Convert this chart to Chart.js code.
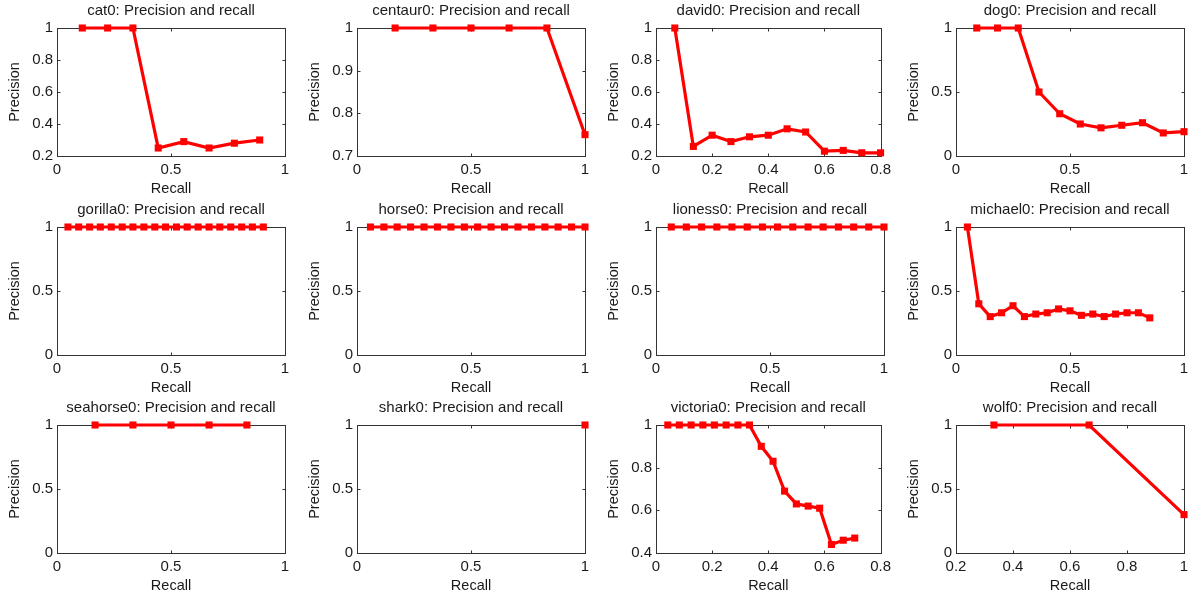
<!DOCTYPE html>
<html>
<head>
<meta charset="utf-8">
<script src="https://cdn.jsdelivr.net/npm/chart.js@4.4.1/dist/chart.umd.min.js"></script>
<style>
  html, body { margin: 0; padding: 0; background: #fff; overflow: hidden; }
  #grid { position: relative; width: 1188px; height: 594px; }
  .cell { position: absolute; }
</style>
</head>
<body>
<div id="grid"></div>
<script>
// --- Daten ---

const names = ["cat0", "centaur0", "david0", "dog0",
               "gorilla0", "horse0", "lioness0", "michael0",
               "seahorse0", "shark0", "victoria0", "wolf0"];

const catRecall = [0.111, 0.222, 0.333, 0.444, 0.556, 0.667, 0.778, 0.889];
const catPrecision = [1, 1, 1, 0.25, 0.29, 0.25, 0.28, 0.30];

const centaurRecall = [0.167, 0.333, 0.5, 0.667, 0.833, 1];
const centaurPrecision = [1, 1, 1, 1, 1, 0.75];

const davidRecall = [0.067, 0.133, 0.2, 0.267, 0.333, 0.4, 0.467, 0.533, 0.6, 0.667, 0.733, 0.8];
const davidPrecision = [1, 0.26, 0.33, 0.29, 0.32, 0.33, 0.37, 0.35, 0.23, 0.235, 0.22, 0.22];

const dogRecall = [0.091, 0.182, 0.273, 0.364, 0.455, 0.545, 0.636, 0.727, 0.818, 0.909, 1];
const dogPrecision = [1, 1, 1, 0.5, 0.33, 0.25, 0.22, 0.24, 0.26, 0.18, 0.19];

const gorillaRecall = [0.048, 0.095, 0.143, 0.19, 0.238, 0.286, 0.333, 0.381, 0.429, 0.476,
                       0.524, 0.571, 0.619, 0.667, 0.714, 0.762, 0.81, 0.857, 0.905];
const gorillaPrecision = [1, 1, 1, 1, 1, 1, 1, 1, 1, 1, 1, 1, 1, 1, 1, 1, 1, 1, 1];

const horseRecall = [0.059, 0.118, 0.176, 0.235, 0.294, 0.353, 0.412, 0.471, 0.529,
                     0.588, 0.647, 0.706, 0.765, 0.824, 0.882, 0.941, 1];
const horsePrecision = [1, 1, 1, 1, 1, 1, 1, 1, 1, 1, 1, 1, 1, 1, 1, 1, 1];

const lionessRecall = [0.067, 0.133, 0.2, 0.267, 0.333, 0.4, 0.467, 0.533,
                       0.6, 0.667, 0.733, 0.8, 0.867, 0.933, 1];
const lionessPrecision = [1, 1, 1, 1, 1, 1, 1, 1, 1, 1, 1, 1, 1, 1, 1];

const michaelRecall = [0.05, 0.1, 0.15, 0.2, 0.25, 0.3, 0.35, 0.4, 0.45,
                       0.5, 0.55, 0.6, 0.65, 0.7, 0.75, 0.8, 0.85];
const michaelPrecision = [1, 0.4, 0.3, 0.33, 0.385, 0.3, 0.32, 0.33, 0.36,
                          0.345, 0.31, 0.32, 0.3, 0.32, 0.33, 0.33, 0.29];

const seahorseRecall = [0.167, 0.333, 0.5, 0.667, 0.833];
const seahorsePrecision = [1, 1, 1, 1, 1];

const sharkRecall = [1];
const sharkPrecision = [1];

const victoriaRecall = [0.042, 0.083, 0.125, 0.167, 0.208, 0.25, 0.292, 0.333, 0.375,
                        0.417, 0.458, 0.5, 0.542, 0.583, 0.625, 0.667, 0.708];
const victoriaPrecision = [1, 1, 1, 1, 1, 1, 1, 1, 0.9, 0.83, 0.69, 0.63, 0.62, 0.61, 0.44, 0.46, 0.47];

const wolfRecall = [0.333, 0.667, 1];
const wolfPrecision = [1, 1, 0.3];

// Achsenbereiche [min, max, Schritt]
const xRanges = [[0, 1, 0.5], [0, 1, 0.5], [0, 0.8, 0.2], [0, 1, 0.5],
                 [0, 1, 0.5], [0, 1, 0.5], [0, 1, 0.5], [0, 1, 0.5],
                 [0, 1, 0.5], [0, 1, 0.5], [0, 0.8, 0.2], [0.2, 1, 0.2]];
const yRanges = [[0.2, 1, 0.2], [0.7, 1, 0.1], [0.2, 1, 0.2], [0, 1, 0.5],
                 [0, 1, 0.5], [0, 1, 0.5], [0, 1, 0.5], [0, 1, 0.5],
                 [0, 1, 0.5], [0, 1, 0.5], [0.4, 1, 0.2], [0, 1, 0.5]];

const recalls = [catRecall, centaurRecall, davidRecall, dogRecall,
                 gorillaRecall, horseRecall, lionessRecall, michaelRecall,
                 seahorseRecall, sharkRecall, victoriaRecall, wolfRecall];
const precisions = [catPrecision, centaurPrecision, davidPrecision, dogPrecision,
                    gorillaPrecision, horsePrecision, lionessPrecision, michaelPrecision,
                    seahorsePrecision, sharkPrecision, victoriaPrecision, wolfPrecision];

// --- Layout ---

const colLefts = [0, 300, 599, 899];
const rowTops = [0, 199, 397];
const CELL_W = 297, CELL_H = 198;
const FONT = "'Liberation Sans', Arial, sans-serif";
const TEXT = "#1a1a1a";

// Rahmen mit Ticks nach innen (wie MATLAB)
const framePlugin = {
    id: "frame",
    beforeDatasetsDraw(chart) {
        const { ctx, chartArea: a, scales } = chart;
        const l = Math.round(a.left) + 0.5, r = Math.round(a.right) + 0.5;
        const t = Math.round(a.top) + 0.5, b = Math.round(a.bottom) + 0.5;
        ctx.save();
        ctx.strokeStyle = "#333";
        ctx.lineWidth = 1;
        ctx.strokeRect(l, t, r - l, b - t);
        ctx.beginPath();
        scales.x.ticks.forEach(tk => {
            const px = Math.round(scales.x.getPixelForValue(tk.value)) + 0.5;
            if (px <= l + 1 || px >= r - 1) return;
            ctx.moveTo(px, b); ctx.lineTo(px, b - 3);
            ctx.moveTo(px, t); ctx.lineTo(px, t + 3);
        });
        scales.y.ticks.forEach(tk => {
            const py = Math.round(scales.y.getPixelForValue(tk.value)) + 0.5;
            if (py <= t + 1 || py >= b - 1) return;
            ctx.moveTo(l, py); ctx.lineTo(l + 3, py);
            ctx.moveTo(r, py); ctx.lineTo(r - 3, py);
        });
        ctx.stroke();
        ctx.restore();
    }
};

function fmt(v) {
    return String(Number(v.toFixed(2)));
}

function makeChart(i) {
    const cell = document.createElement("div");
    cell.className = "cell";
    cell.style.left = colLefts[i % 4] + "px";
    cell.style.top = rowTops[Math.floor(i / 4)] + "px";
    const canvas = document.createElement("canvas");
    canvas.width = CELL_W;
    canvas.height = CELL_H;
    cell.appendChild(canvas);
    document.getElementById("grid").appendChild(cell);

    const points = recalls[i].map((r, k) => ({ x: r, y: precisions[i][k] }));
    const [xmin, xmax, xstep] = xRanges[i];
    const [ymin, ymax, ystep] = yRanges[i];

    new Chart(canvas.getContext("2d"), {
        type: "scatter",
        data: {
            datasets: [{
                data: points,
                showLine: true,
                borderColor: "rgb(255,0,0)",
                backgroundColor: "rgb(255,0,0)",
                borderWidth: 3.2,
                pointStyle: "rect",
                pointRadius: 5,
                pointBorderWidth: 0,
                clip: false
            }]
        },
        options: {
            responsive: false,
            animation: false,
            devicePixelRatio: 1,
            layout: { padding: { left: 0, right: 12, top: 0, bottom: 0 } },
            plugins: {
                legend: { display: false },
                tooltip: { enabled: false },
                title: {
                    display: true,
                    fullSize: false,
                    text: names[i] + ": Precision and recall",
                    color: TEXT,
                    font: { family: FONT, size: 15, weight: "normal" },
                    padding: { top: 2, bottom: 8 }
                }
            },
            scales: {
                x: {
                    type: "linear",
                    min: xmin, max: xmax,
                    grid: { display: false, drawTicks: false },
                    border: { display: false },
                    ticks: {
                        stepSize: xstep, autoSkip: false, maxRotation: 0,
                        padding: 5, color: TEXT,
                        font: { family: FONT, size: 15 },
                        callback: v => fmt(v)
                    },
                    title: {
                        display: true, text: "Recall", color: TEXT,
                        font: { family: FONT, size: 14.5 },
                        padding: { top: 0, bottom: 0 }
                    },
                    afterFit(scale) { scale.height = 42; }
                },
                y: {
                    min: ymin, max: ymax,
                    grid: { display: false, drawTicks: false },
                    border: { display: false },
                    ticks: {
                        stepSize: ystep, autoSkip: false,
                        padding: 4, color: TEXT,
                        font: { family: FONT, size: 15 },
                        callback: v => fmt(v)
                    },
                    title: {
                        display: true, text: "Precision", color: TEXT,
                        font: { family: FONT, size: 14.5 },
                        padding: { top: 6.3, bottom: 0 }
                    },
                    afterFit(scale) { scale.width = 57; }
                }
            }
        },
        plugins: [framePlugin]
    });
}

document.addEventListener("DOMContentLoaded", function() {
    for (let i = 0; i < names.length; i++) {
        makeChart(i);
    }
});
</script>
</body>
</html>
